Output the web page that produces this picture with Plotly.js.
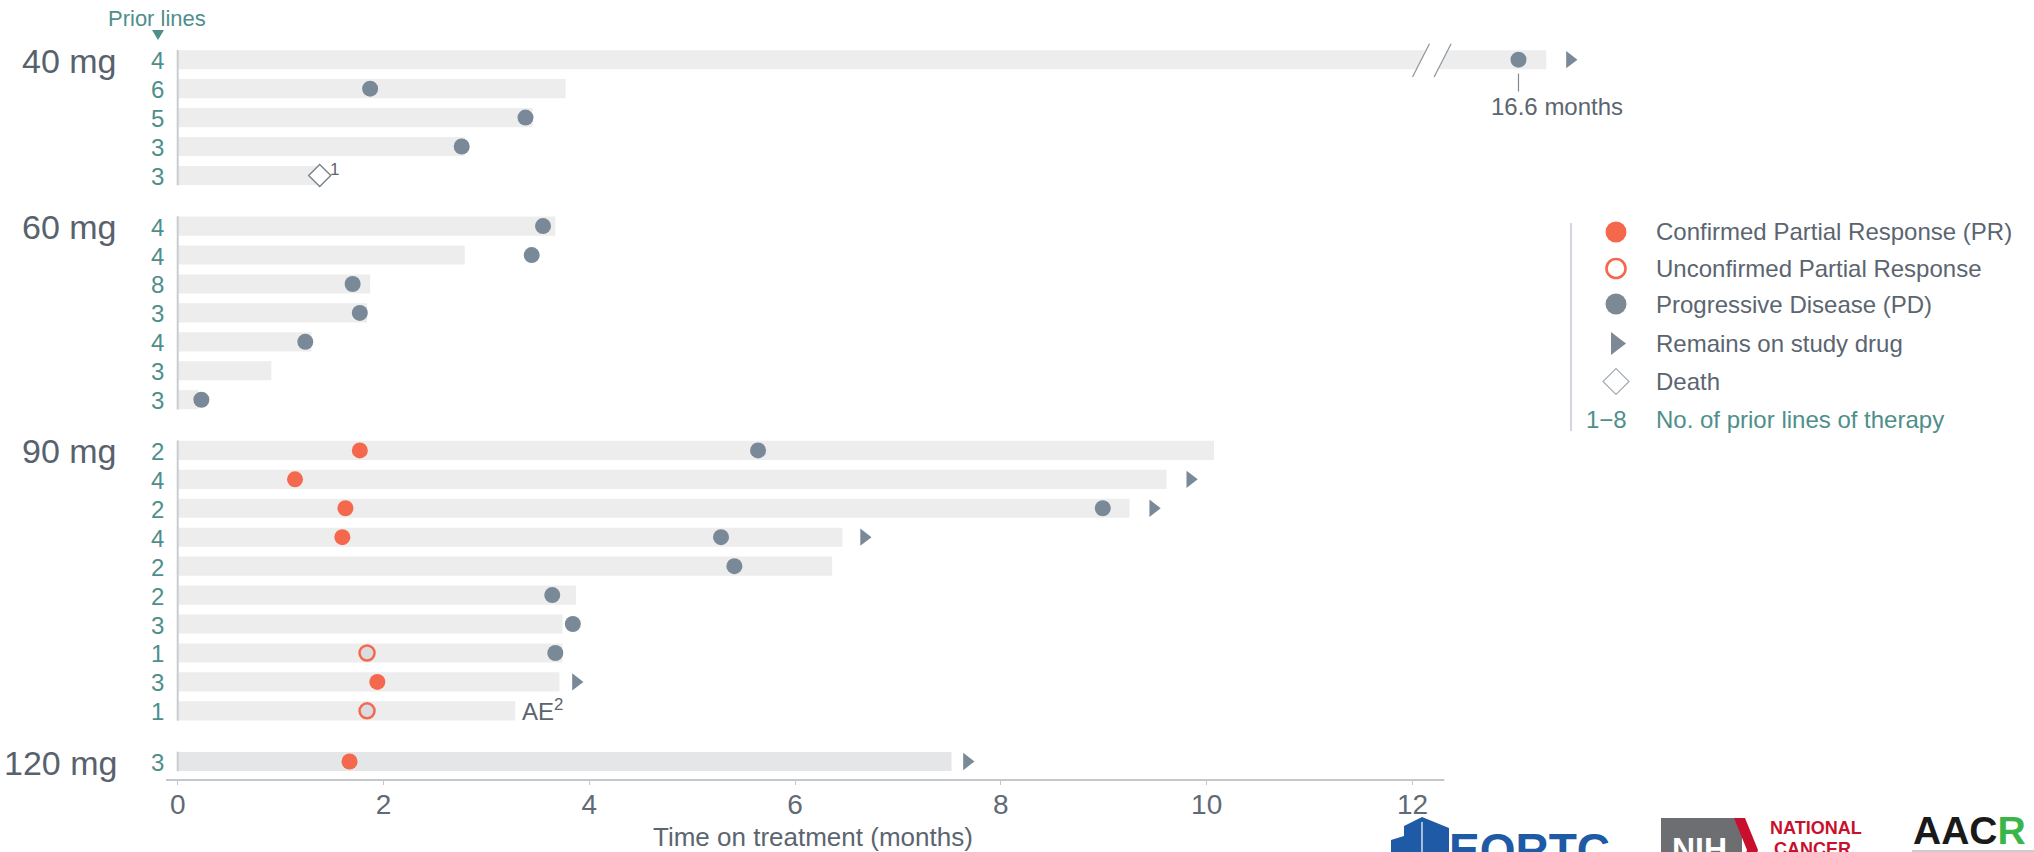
<!DOCTYPE html>
<html>
<head>
<meta charset="utf-8">
<script src="https://cdn.plot.ly/plotly-3.0.1.min.js"></script>
<style>
  html, body { margin: 0; padding: 0; background: #ffffff; }
  #chart { width: 2034px; height: 852px; }
</style>
</head>
<body>
<div id="chart"></div>
<script>
// ---- Data -------------------------------------------------------------
const doseGroups = ['40 mg', '60 mg', '90 mg', '120 mg'];
const groupSizes = [5, 7, 10, 1];

// one entry per patient, top to bottom
const priorLines = [4, 6, 5, 3, 3,  4, 4, 8, 3, 4, 3, 3,  2, 4, 2, 4, 2, 2, 3, 1, 3, 1,  3];
const treatmentMonths = [16.87, 3.77, 3.45, 2.79, 1.40,
                         3.67, 2.79, 1.87, 1.84, 1.30, 0.91, 0.20,
                         10.07, 9.61, 9.25, 6.46, 6.36, 3.87, 3.74, 3.74, 3.71, 3.28,
                         7.52];

// events: patient index + time (months)
const prPatients = [12, 13, 14, 15, 20, 22];
const prMonths   = [1.77, 1.14, 1.63, 1.60, 1.94, 1.67];
const uprPatients = [19, 21];
const uprMonths   = [1.84, 1.84];
const pdPatients = [0, 1, 2, 3, 5, 6, 7, 8, 9, 11, 12, 14, 15, 16, 17, 18, 19];
const pdMonths   = [16.6, 1.87, 3.38, 2.76, 3.55, 3.44, 1.70, 1.77, 1.24, 0.23, 5.64, 8.99, 5.28, 5.41, 3.64, 3.84, 3.67];
const ongoingPatients = [0, 13, 14, 15, 20, 22];
const ongoingMonths   = [17.10, 9.84, 9.48, 6.67, 3.87, 7.67];
const deathPatients = [4];
const deathMonths   = [1.38];
const aePatients = [21];

const xTicks = [0, 2, 4, 6, 8, 10, 12];

const legendLabels = ['Confirmed Partial Response (PR)', 'Unconfirmed Partial Response',
                      'Progressive Disease (PD)', 'Remains on study drug', 'Death',
                      'No. of prior lines of therapy'];

// ---- Axis break (12.2 -> 15.77 months collapsed) ---------------------
const BREAK_FROM = 12.2;
const BREAK_SHIFT = 3.57;
const toAxis = m => (m > BREAK_FROM ? m - BREAK_SHIFT : m);

// ---- Row layout -------------------------------------------------------
const GROUP_GAP = 0.75;
const rowPos = [];
const groupFirst = [], groupLast = [];
(function () {
  let p = 0;
  groupSizes.forEach(n => {
    groupFirst.push(p);
    for (let i = 0; i < n; i++) { rowPos.push(p); p += 1; }
    groupLast.push(p - 1);
    p += GROUP_GAP;
  });
})();

// ---- Styling ----------------------------------------------------------
const FONT = 'Liberation Sans, Arial, Helvetica, sans-serif';
const TEAL = '#4e8f8b';
const TEXT = '#5b6570';
const PR_COLOR = '#f4694e';
const PD_COLOR = '#7a8998';
const BAR_COLOR = '#ededed';

const W = 2034, H = 852;
const M = { l: 166, r: 0, t: 42, b: 72 };
const PW = W - M.l - M.r, PH = H - M.t - M.b;
const X0PX = 177.7, PX_PER_MONTH = 102.9;
const Y0PX = 59.7, PX_PER_ROW = 28.94;
const px2paperX = px => (px - M.l) / PW;
const px2paperY = py => (H - M.b - py) / PH;
const PX = px => px2paperX(px), PY = py => px2paperY(py);

const xRange = [(M.l - X0PX) / PX_PER_MONTH, (W - M.r - X0PX) / PX_PER_MONTH];
const yRange = [(H - M.b - Y0PX) / PX_PER_ROW, (M.t - Y0PX) / PX_PER_ROW];
const AXIS_END = 12.31;

// ---- Traces -----------------------------------------------------------
const pick = (arr, idx) => idx.map(i => arr[i]);

const traces = [];

traces.push({
  type: 'bar', orientation: 'h',
  x: treatmentMonths.map(toAxis), y: rowPos, base: 0,
  width: 0.66,
  marker: { color: treatmentMonths.map((_, i) => i === rowPos.length - 1 ? '#e5e6e8' : BAR_COLOR), line: { width: 0 } },
  hoverinfo: 'skip', showlegend: false
});

function markerTrace(xs, rows, marker) {
  return {
    type: 'scatter', mode: 'markers',
    x: xs.map(toAxis), y: pick(rowPos, rows),
    marker: marker, cliponaxis: false,
    hoverinfo: 'skip', showlegend: false
  };
}

traces.push(markerTrace(ongoingMonths, ongoingPatients,
  { symbol: 'triangle-right', size: 15, color: PD_COLOR, line: { width: 0 } }));
traces.push(markerTrace(pdMonths, pdPatients,
  { symbol: 'circle', size: 16, color: PD_COLOR, line: { width: 0 } }));
traces.push(markerTrace(prMonths, prPatients,
  { symbol: 'circle', size: 16, color: PR_COLOR, line: { width: 0 } }));
traces.push(markerTrace(uprMonths, uprPatients,
  { symbol: 'circle', size: 15, color: '#d9dde1', line: { color: PR_COLOR, width: 2.5 } }));
traces.push(markerTrace(deathMonths, deathPatients,
  { symbol: 'diamond', size: 17, color: '#ffffff', line: { color: '#76838f', width: 1.4 } }));

// legend symbols, drawn on a pixel-scaled overlay
const legendX = 1616;
const legendY = [232, 268.5, 304, 343.5, 381.5, 419];
const legendSymbols = [
  { symbol: 'circle', size: 21, color: PR_COLOR, line: { width: 0 } },
  { symbol: 'circle', size: 19, color: '#ffffff', line: { color: PR_COLOR, width: 2.6 } },
  { symbol: 'circle', size: 21, color: '#7d8a96', line: { width: 0 } },
  { symbol: 'triangle-right', size: 20, color: '#7d8a96', line: { width: 0 } },
  { symbol: 'diamond', size: 20, color: '#ffffff', line: { color: '#a5adb5', width: 1.2 } }
];
legendSymbols.forEach((mk, i) => {
  traces.push({
    type: 'scatter', mode: 'markers', xaxis: 'x2', yaxis: 'y2',
    x: [legendX], y: [legendY[i]], marker: mk, cliponaxis: false,
    hoverinfo: 'skip', showlegend: false
  });
});

// ---- Shapes -----------------------------------------------------------
const shapes = [];
// x axis line (stops at the break region)
shapes.push({ type: 'line', xref: 'x', yref: 'paper', x0: xRange[0], x1: AXIS_END, y0: 0, y1: 0,
  line: { color: '#c4c8cc', width: 2 }, layer: 'above' });
// left rule per dose group
groupSizes.forEach((n, g) => {
  shapes.push({ type: 'line', xref: 'x', yref: 'y', x0: 0, x1: 0,
    y0: groupFirst[g] - 0.34, y1: groupLast[g] + 0.34,
    line: { color: '#c8cdd2', width: 2 }, layer: 'above' });
});
// break marks on the first bar
const bx = BREAK_FROM - 0.2;   // left slash, bottom end
const bRow = rowPos[0];
const slashDX = 0.165, slashGap = 0.21, yTop = bRow - 0.55, yBot = bRow + 0.6;
shapes.push({ type: 'path', xref: 'x', yref: 'y',
  path: `M${bx},${yBot} L${bx + slashDX},${yTop} L${bx + slashGap + slashDX},${yTop} L${bx + slashGap},${yBot} Z`,
  fillcolor: '#ffffff', line: { width: 0 }, layer: 'above' });
[0, slashGap].forEach(off => {
  shapes.push({ type: 'line', xref: 'x', yref: 'y',
    x0: bx + off, y0: yBot, x1: bx + off + slashDX, y1: yTop,
    line: { color: '#8a949e', width: 1.2 }, layer: 'above' });
});
// leader under the 16.6-month marker
shapes.push({ type: 'line', xref: 'x', yref: 'y', x0: toAxis(pdMonths[0]), x1: toAxis(pdMonths[0]),
  y0: rowPos[pdPatients[0]] + 0.48, y1: rowPos[pdPatients[0]] + 1.1,
  line: { color: '#7f8a95', width: 1.2 } });
// pointer under the "Prior lines" header
shapes.push({ type: 'path', xref: 'paper', yref: 'paper', fillcolor: TEAL, line: { width: 0 },
  path: `M${PX(152)},${PY(30)} L${PX(164)},${PY(30)} L${PX(158)},${PY(40)} Z` });
// legend rule
shapes.push({ type: 'line', xref: 'paper', yref: 'paper',
  x0: PX(1571), x1: PX(1571), y0: PY(223), y1: PY(431),
  line: { color: '#c5ccd3', width: 1.6 } });

// logos along the bottom edge
shapes.push({ type: 'path', xref: 'paper', yref: 'paper', fillcolor: '#1f5aa6', line: { width: 0 },
  path: `M${PX(1391)},${PY(860)} L${PX(1391)},${PY(840)} L${PX(1404)},${PY(836)} L${PX(1404)},${PY(826)} L${PX(1422)},${PY(817)} L${PX(1449)},${PY(828)} L${PX(1449)},${PY(860)} Z` });
shapes.push({ type: 'line', xref: 'paper', yref: 'paper', x0: PX(1422), x1: PX(1422), y0: PY(822), y1: PY(852),
  line: { color: '#ffffff', width: 1.2 } });
shapes.push({ type: 'rect', xref: 'paper', yref: 'paper', fillcolor: '#6d6e71', line: { width: 0 },
  x0: PX(1661), x1: PX(1742), y0: PY(818), y1: PY(870) });
shapes.push({ type: 'path', xref: 'paper', yref: 'paper', fillcolor: '#c8102e', line: { width: 0 },
  path: `M${PX(1734)},${PY(818)} L${PX(1745)},${PY(818)} L${PX(1758)},${PY(850)} L${PX(1752)},${PY(870)} L${PX(1741)},${PY(870)} L${PX(1747)},${PY(850)} Z` });
shapes.push({ type: 'line', xref: 'paper', yref: 'paper', x0: PX(1912), x1: PX(2034), y0: PY(851), y1: PY(851),
  line: { color: '#9a9a9a', width: 1 } });

// ---- Annotations ------------------------------------------------------
const annotations = [];
// prior lines per patient
priorLines.forEach((v, i) => {
  annotations.push({ xref: 'x', yref: 'y', x: 0, y: rowPos[i], xshift: -20.7, yshift: -1,
    xanchor: 'center', yanchor: 'middle', showarrow: false, text: String(v),
    font: { family: FONT, size: 24, color: TEAL } });
});
// dose group labels
doseGroups.forEach((d, g) => {
  annotations.push({ xref: 'x', yref: 'y', x: 0, y: groupFirst[g], xshift: -58.7, yshift: -1,
    xanchor: 'right', yanchor: 'middle', showarrow: false, text: d,
    font: { family: FONT, size: 34, color: '#58626d' } });
});
// header
annotations.push({ xref: 'paper', yref: 'paper', x: PX(157), y: PY(18),
  xanchor: 'center', yanchor: 'middle', showarrow: false, text: 'Prior lines',
  font: { family: FONT, size: 22, color: TEAL } });
// x axis title
annotations.push({ xref: 'paper', yref: 'paper', x: PX(813), y: PY(837),
  xanchor: 'center', yanchor: 'middle', showarrow: false, text: 'Time on treatment (months)',
  font: { family: FONT, size: 26, color: TEXT } });
// value label for the long responder
annotations.push({ xref: 'x', yref: 'y', x: toAxis(pdMonths[0]), y: rowPos[pdPatients[0]],
  xshift: -29, yshift: -47, xanchor: 'left', yanchor: 'middle', showarrow: false,
  text: pdMonths[0].toFixed(1) + ' months', font: { family: FONT, size: 24, color: TEXT } });
// footnote markers
annotations.push({ xref: 'x', yref: 'y', x: deathMonths[0], y: rowPos[deathPatients[0]],
  xshift: 8, yshift: 6, xanchor: 'left', yanchor: 'middle', showarrow: false, text: '1',
  font: { family: FONT, size: 17, color: TEXT } });
aePatients.forEach(p => {
  annotations.push({ xref: 'x', yref: 'y', x: treatmentMonths[p], y: rowPos[p],
    xshift: 5, yshift: 1, xanchor: 'left', yanchor: 'middle', showarrow: false, text: 'AE<sup>2</sup>',
    font: { family: FONT, size: 24, color: TEXT } });
});
// legend text
legendLabels.forEach((t, i) => {
  annotations.push({ xref: 'paper', yref: 'paper', x: PX(1654), y: PY(legendY[i]),
    xanchor: 'left', yanchor: 'middle', showarrow: false, text: t,
    font: { family: FONT, size: 24, color: i === legendLabels.length - 1 ? TEAL : TEXT } });
});
annotations.push({ xref: 'paper', yref: 'paper', x: PX(1606), y: PY(legendY[5]),
  xanchor: 'center', yanchor: 'middle', showarrow: false,
  text: Math.min(...priorLines) + '\u2212' + Math.max(...priorLines),
  font: { family: FONT, size: 24, color: TEAL } });

// logo lettering
annotations.push({ xref: 'paper', yref: 'paper', x: PX(1447), y: PY(850),
  xanchor: 'left', yanchor: 'middle', showarrow: false, text: '<b>EORTC</b>',
  font: { family: FONT, size: 46, color: '#1f5aa6' } });
annotations.push({ xref: 'paper', yref: 'paper', x: PX(1699), y: PY(849),
  xanchor: 'center', yanchor: 'middle', showarrow: false, text: '<b>NIH</b>',
  font: { family: FONT, size: 32, color: '#ffffff' } });
annotations.push({ xref: 'paper', yref: 'paper', x: PX(1768), y: PY(828),
  xanchor: 'left', yanchor: 'middle', showarrow: false, text: '<b>NATIONAL</b>',
  font: { family: FONT, size: 18, color: '#c8102e' } });
annotations.push({ xref: 'paper', yref: 'paper', x: PX(1772), y: PY(849),
  xanchor: 'left', yanchor: 'middle', showarrow: false, text: '<b>CANCER</b>',
  font: { family: FONT, size: 18, color: '#c8102e' } });
annotations.push({ xref: 'paper', yref: 'paper', x: PX(1911), y: PY(830),
  xanchor: 'left', yanchor: 'middle', showarrow: false,
  text: '<b>AAC<span style="color:#3ab54a">R</span></b>',
  font: { family: FONT, size: 39, color: '#1a1a1a' } });

// ---- Layout -----------------------------------------------------------
const layout = {
  width: W, height: H,
  margin: M,
  paper_bgcolor: '#ffffff', plot_bgcolor: '#ffffff',
  showlegend: false,
  barmode: 'overlay',
  font: { family: FONT, color: TEXT },
  xaxis: {
    range: xRange, tickvals: xTicks, ticktext: xTicks.map(String),
    showgrid: false, zeroline: false, showline: false,
    ticks: 'outside', ticklen: 4, tickwidth: 1, tickcolor: '#c4c8cc',
    ticklabelstandoff: -5,
    tickfont: { family: FONT, size: 28, color: '#5f6a76' },
    fixedrange: true
  },
  yaxis: {
    range: yRange, showgrid: false, zeroline: false, showline: false,
    showticklabels: false, ticks: '', fixedrange: true
  },
  xaxis2: { overlaying: 'x', anchor: 'y2', range: [M.l, W - M.r], visible: false, fixedrange: true },
  yaxis2: { overlaying: 'y', anchor: 'x2', range: [H - M.b, M.t], visible: false, fixedrange: true },
  shapes: shapes,
  annotations: annotations
};

Plotly.newPlot('chart', traces, layout, { staticPlot: true, displayModeBar: false });
</script>
</body>
</html>
